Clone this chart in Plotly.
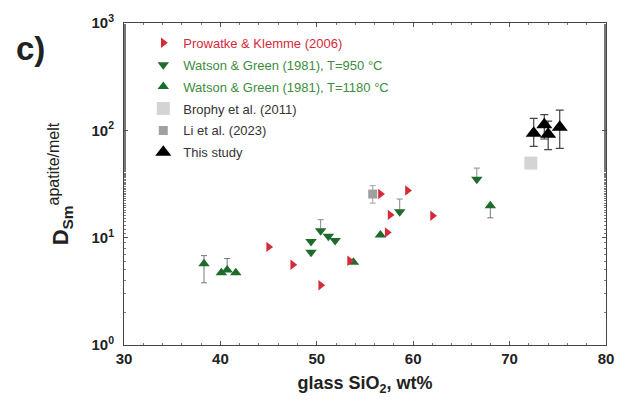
import plotly.graph_objects as go

# Prowatke & Klemme (2006)
pk_sio2 = [45.0, 47.5, 50.4, 53.4, 56.6, 57.3, 57.6, 59.4, 62.0]
pk_d = [8.2, 5.6, 3.6, 6.1, 25.5, 11.2, 16.3, 27.5, 16.0]

# Watson & Green (1981), T=950 °C
wg950_sio2 = [49.4, 49.4, 50.4, 51.2, 51.9, 58.6, 66.6]
wg950_d = [9.2, 7.3, 11.6, 10.3, 9.4, 17.4, 35.0]
wg950_up = [0, 0, 3.1, 0, 0, 5.5, 9.5]
wg950_dn = [0, 0, 0, 0, 0, 0, 0]

# Watson & Green (1981), T=1180 °C
wg1180_sio2 = [38.3, 40.1, 40.7, 41.6, 53.8, 56.6, 68.0]
wg1180_d = [5.7, 4.7, 5.0, 4.7, 5.9, 10.6, 19.8]
wg1180_up = [1.1, 0, 1.4, 0, 0, 0, 0]
wg1180_dn = [1.9, 0, 0, 0, 0, 0, 4.5]

# Brophy et al. (2011)
br_sio2 = [72.2]
br_d = [49.5]

# Li et al. (2023)
li_sio2 = [55.8]
li_d = [25.5]
li_up = [5.0]
li_dn = [4.5]

# This study
ts_sio2 = [72.5, 73.6, 74.0, 75.2]
ts_d = [94.0, 113.0, 92.0, 107.0]
ts_up = [35.0, 27.0, 30.0, 47.0]
ts_dn = [23.0, 30.0, 26.0, 39.0]

RED = "#d42a3a"
GREEN = "#1f6b2c"
GREEN_TXT = "#3d8c40"

fig = go.Figure()

fig.add_trace(go.Scatter(
    x=wg950_sio2, y=wg950_d, mode="markers",
    name=f"<span style='color:{GREEN_TXT}'>Watson &amp; Green (1981), T=950 °C</span>",
    marker=dict(symbol="triangle-down", size=10, color=GREEN),
    error_y=dict(type="data", symmetric=False, array=wg950_up, arrayminus=wg950_dn,
                 color="#888888", thickness=1, width=3),
    legendrank=2, legendgroup="wg950",
))
fig.add_trace(go.Scatter(
    x=wg1180_sio2, y=wg1180_d, mode="markers",
    name=f"<span style='color:{GREEN_TXT}'>Watson &amp; Green (1981), T=1180 °C</span>",
    marker=dict(symbol="triangle-up", size=10, color=GREEN),
    error_y=dict(type="data", symmetric=False, array=wg1180_up, arrayminus=wg1180_dn,
                 color="#777777", thickness=1, width=3),
    legendrank=3, legendgroup="wg1180",
))
fig.add_trace(go.Scatter(
    x=br_sio2, y=br_d, mode="markers",
    name="<span style='color:#333333'>Brophy et al. (2011)</span>",
    marker=dict(symbol="square", size=13, color="#d4d4d4"),
    legendrank=4, legendgroup="br",
))
fig.add_trace(go.Scatter(
    x=li_sio2, y=li_d, mode="markers",
    name="<span style='color:#333333'>Li et al. (2023)</span>",
    marker=dict(symbol="square", size=9, color="#a0a0a0"),
    error_y=dict(type="data", symmetric=False, array=li_up, arrayminus=li_dn,
                 color="#a0a0a0", thickness=1, width=3),
    legendrank=5, legendgroup="li",
))
fig.add_trace(go.Scatter(
    x=pk_sio2, y=pk_d, mode="markers",
    name=f"<span style='color:{RED}'>Prowatke &amp; Klemme (2006)</span>",
    marker=dict(symbol="triangle-right", size=9, color=RED),
    legendrank=1, legendgroup="pk",
))
fig.add_trace(go.Scatter(
    x=ts_sio2, y=ts_d, mode="markers",
    name="<span style='color:#333333'>This study</span>",
    marker=dict(symbol="triangle-up", size=14, color="black"),
    error_y=dict(type="data", symmetric=False, array=ts_up, arrayminus=ts_dn,
                 color="#444444", thickness=1.2, width=4),
    legendrank=6, legendgroup="ts",
))

ytick_vals = [1, 10, 100, 1000]
ytick_text = ["<b>10</b><sup><b>0</b></sup>", "<b>10</b><sup><b>1</b></sup>",
              "<b>10</b><sup><b>2</b></sup>", "<b>10</b><sup><b>3</b></sup>"]
xtick_vals = [30, 40, 50, 60, 70, 80]
xtick_text = [f"<b>{v}</b>" for v in xtick_vals]

fig.update_layout(
    width=626, height=404,
    margin=dict(l=124, r=16, t=21, b=59),
    paper_bgcolor="white", plot_bgcolor="white",
    font=dict(family="Liberation Sans, Arial, sans-serif", color="#222222"),
    showlegend=True,
    legend=dict(x=0.04, y=0.985, xanchor="left", yanchor="top",
                bgcolor="rgba(0,0,0,0)", font=dict(size=13),
                tracegroupgap=2, itemsizing="trace"),
    xaxis=dict(
        range=[30, 80], tickvals=xtick_vals, ticktext=xtick_text,
        tickfont=dict(size=15, color="#222222"),
        ticks="inside", ticklen=4, tickcolor="#555555",
        minor=dict(dtick=2, ticks="inside", ticklen=2, tickcolor="#777777"),
        showline=True, linecolor="#444444", linewidth=1, mirror="allticks",
        showgrid=False, zeroline=False,
        title=dict(text="<b>glass SiO<sub>2</sub>, wt%</b>", font=dict(size=18), standoff=10),
    ),
    yaxis=dict(
        type="log", range=[0, 3], tickvals=ytick_vals, ticktext=ytick_text,
        tickfont=dict(size=15, color="#222222"),
        ticks="inside", ticklen=4, tickcolor="#555555", ticklabelstandoff=6,
        minor=dict(ticks="inside", ticklen=2, tickcolor="#777777", showgrid=False),
        showline=True, linecolor="#444444", linewidth=1, mirror="allticks",
        showgrid=False, zeroline=False,
        title=dict(text="<b>D</b><sub><b>Sm</b></sub>"
                        "<sup><span style='font-size:16px'>apatite/melt</span></sup>",
                   font=dict(size=22), standoff=16),
    ),
)

fig.add_annotation(
    text="<b>c)</b>", xref="paper", yref="paper", x=-0.228, y=0.92,
    xanchor="left", yanchor="middle", showarrow=False,
    font=dict(size=33, color="#222222"),
)

fig.write_html("out.html")
